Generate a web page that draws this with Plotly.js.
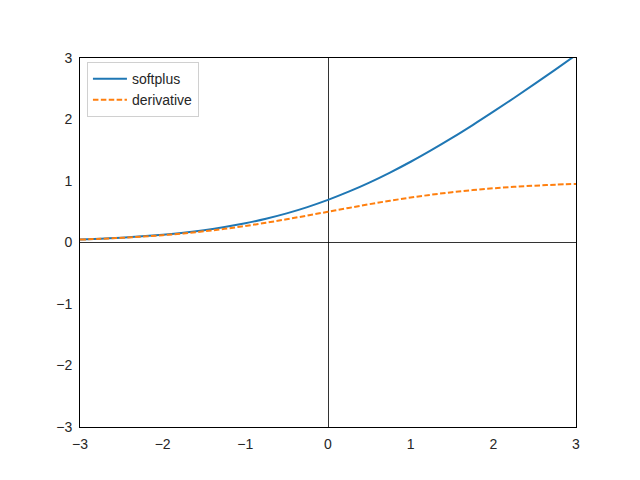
<!DOCTYPE html>
<html><head><meta charset="utf-8">
<script src="https://cdn.plot.ly/plotly-3.0.1.min.js"></script>
<style>html,body{margin:0;padding:0;background:#fff}#chart{width:640px;height:480px}</style>
</head><body><div id="chart"></div>
<script>
const xValues = [-3,-2.75,-2.5,-2.25,-2,-1.75,-1.5,-1.25,-1,-0.75,-0.5,-0.25,0,0.25,0.5,0.75,1,1.25,1.5,1.75,2,2.25,2.5,2.75,3];
const softplusValues = [0.049,0.062,0.079,0.100,0.127,0.160,0.201,0.252,0.313,0.387,0.474,0.576,0.693,0.826,0.974,1.137,1.313,1.502,1.701,1.910,2.127,2.350,2.579,2.812,3.049];
const derivativeValues = [0.047,0.060,0.076,0.095,0.119,0.148,0.182,0.223,0.269,0.321,0.378,0.438,0.500,0.562,0.623,0.679,0.731,0.777,0.818,0.852,0.881,0.905,0.924,0.940,0.953];
const tickVals = [-3,-2,-1,0,1,2,3];

const font = {family: 'Liberation Sans, Arial, sans-serif', size: 14, color: '#262626'};
const traces = [
  {x: xValues, y: softplusValues, name: 'softplus', mode: 'lines', line: {color: '#1f77b4', width: 2, shape: 'spline'}},
  {x: xValues, y: derivativeValues, name: 'derivative', mode: 'lines', line: {color: '#ff7f0e', width: 2, dash: '5.5px,2.4px', shape: 'spline'}}
];
const axisBase = {
  range: [-3, 3], tickvals: tickVals, showgrid: false, ticks: '',
  showline: true, linecolor: '#000', linewidth: 1, mirror: true,
  zeroline: true, zerolinecolor: '#000', zerolinewidth: 0.8,
  tickfont: font
};
const layout = {
  width: 640, height: 480,
  margin: {l: 80, r: 64, t: 58, b: 53},
  paper_bgcolor: '#fff', plot_bgcolor: '#fff',
  font: font,
  showlegend: true,
  legend: {x: 0.014, y: 0.989, xanchor: 'left', yanchor: 'top', bgcolor: 'rgba(255,255,255,0.8)', bordercolor: '#d0d0d0', borderwidth: 1, font: font, tracegroupgap: 0, itemwidth: 34},
  xaxis: Object.assign({}, axisBase, {ticklabelstandoff: 4}),
  yaxis: Object.assign({}, axisBase, {ticklabelstandoff: 4})
};
Plotly.newPlot('chart', traces, layout, {displayModeBar: false, staticPlot: true});
</script></body></html>
